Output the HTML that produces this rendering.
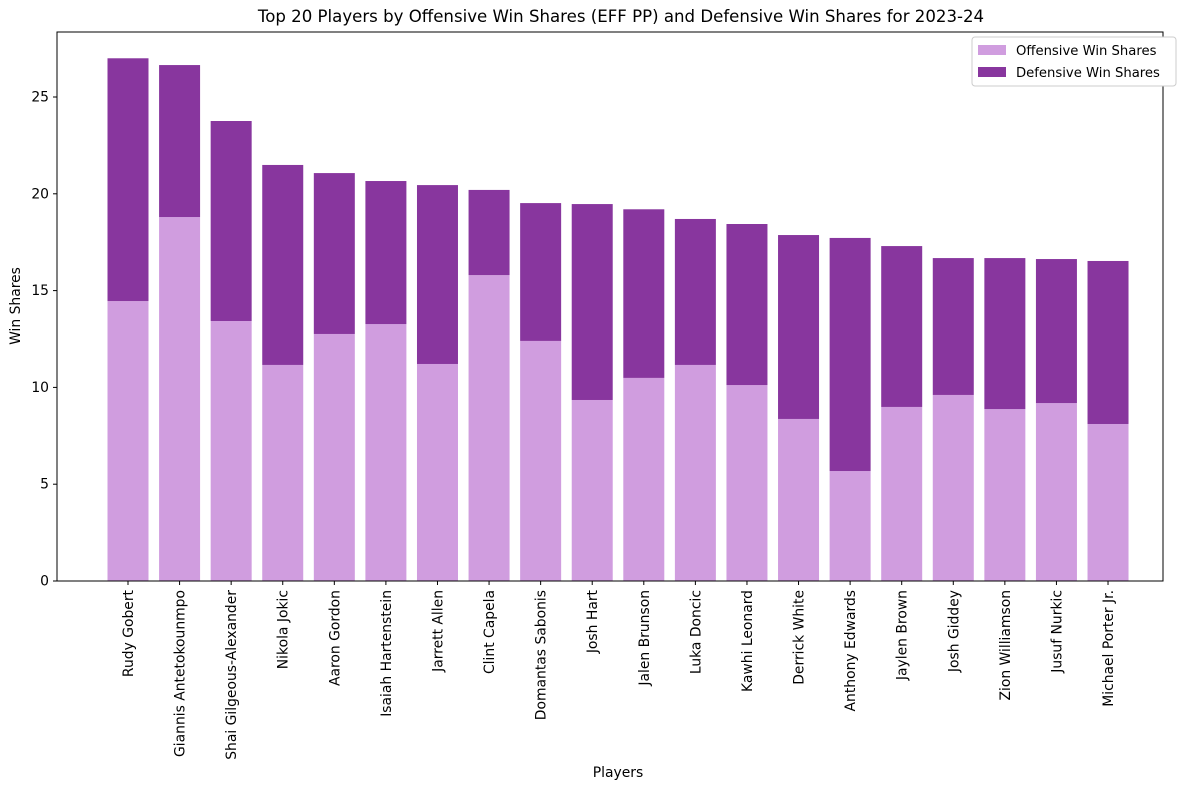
<!DOCTYPE html>
<html><head><meta charset="utf-8"><style>
body{margin:0;background:#fff;}
svg text{font-family:"DejaVu Sans","Liberation Sans",sans-serif;fill:#000;}
</style></head><body>
<svg id="chart" width="1189" height="790" xmlns="http://www.w3.org/2000/svg">
<text x="621" y="22" font-size="16.6" text-anchor="middle">Top 20 Players by Offensive Win Shares (EFF PP) and Defensive Win Shares for 2023-24</text>
<text transform="translate(20,306) rotate(-90)" font-size="13.9" text-anchor="middle">Win Shares</text>
<text x="618" y="777" font-size="13.9" text-anchor="middle">Players</text>
<g id="bars"></g><g id="ticks"></g>
<rect x="57" y="32" width="1106" height="549" fill="none" stroke="#000" stroke-width="1"/>
<g>
<rect x="972" y="37" width="204" height="49" rx="3" fill="#fff" stroke="#ccc"/>
<rect x="978" y="45" width="28" height="10" fill="#d09ddf"/>
<text x="1016" y="55" font-size="13.2">Offensive Win Shares</text>
<rect x="978" y="67" width="28" height="10" fill="#88369e"/>
<text x="1016" y="77" font-size="13.2">Defensive Win Shares</text>
</g>
</svg>
<script>
const players=["Rudy Gobert","Giannis Antetokounmpo","Shai Gilgeous-Alexander","Nikola Jokic","Aaron Gordon","Isaiah Hartenstein","Jarrett Allen","Clint Capela","Domantas Sabonis","Josh Hart","Jalen Brunson","Luka Doncic","Kawhi Leonard","Derrick White","Anthony Edwards","Jaylen Brown","Josh Giddey","Zion Williamson","Jusuf Nurkic","Michael Porter Jr."];
const offensive=[14.46,18.8,13.43,11.16,12.76,13.27,11.21,15.8,12.4,9.35,10.49,11.16,10.12,8.37,5.68,8.99,9.61,8.88,9.19,8.11];
const defensive=[12.54,7.85,10.33,10.33,8.31,7.39,9.24,4.4,7.12,10.12,8.71,7.54,8.32,9.5,12.04,8.31,7.07,7.8,7.44,8.42];
const yTicks=[0,5,10,15,20,25];
const NS="http://www.w3.org/2000/svg";
const y=v=>581-v*19.36;
const x=i=>128+i*51.58;
const bw=41;
const bars=document.getElementById('bars'),ticks=document.getElementById('ticks');
function mk(tag,attrs,parent){const e=document.createElementNS(NS,tag);for(const k in attrs)e.setAttribute(k,attrs[k]);parent.appendChild(e);return e;}
players.forEach((p,i)=>{
  const o=mk('rect',{x:x(i)-bw/2,y:y(offensive[i]),width:bw,height:581-y(offensive[i]),fill:'#d09ddf'},bars);
  
  
  const t=offensive[i]+defensive[i];
  const d=mk('rect',{x:x(i)-bw/2,y:y(t),width:bw,height:y(offensive[i])-y(t),fill:'#88369e'},bars);
  
  
  mk('line',{x1:x(i),x2:x(i),y1:581,y2:585,stroke:'#000'},ticks);
  const l=mk('text',{transform:`translate(${x(i)+5},${590}) rotate(-90)`,'font-size':13.9,'text-anchor':'end'},ticks);
  l.textContent=p;
  
  
});
yTicks.forEach(v=>{
  mk('line',{x1:53,x2:57,y1:y(v),y2:y(v),stroke:'#000'},ticks);
  const l=mk('text',{x:49,y:y(v)+4.5,'font-size':13.9,'text-anchor':'end'},ticks);
  l.textContent=v;
  
  
});
</script>
</body></html>
